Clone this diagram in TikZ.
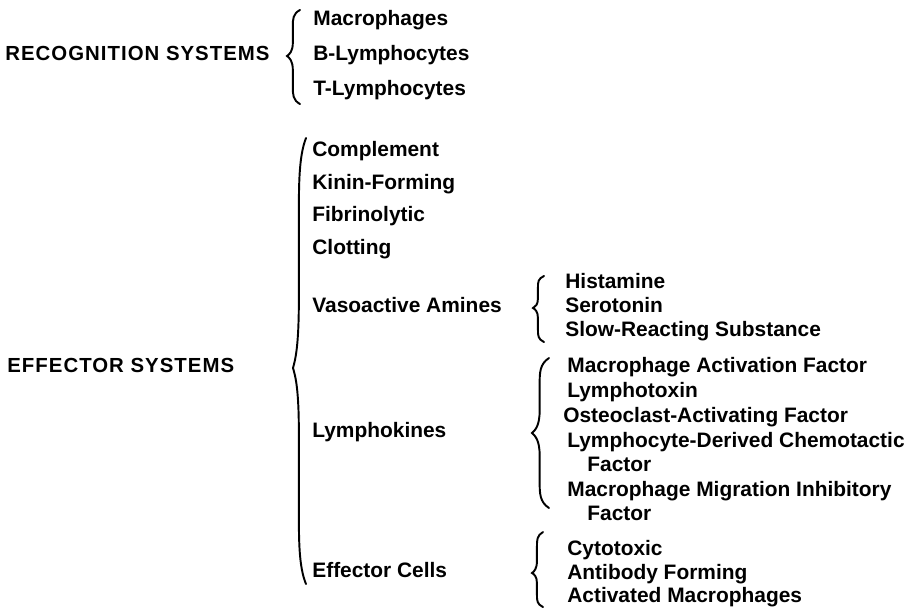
\documentclass[tikz,border=0pt]{standalone}
\usepackage{fontspec}
\setmainfont{Liberation Sans}
\newfontfamily\capsfont{Liberation Sans}[LetterSpace=5]
\usepackage{tikz}

% curly brace: cusp x, top y, cusp y, bottom y, width
\newcommand{\curlybrace}[5]{%
  \pgfmathsetmacro{\cbmid}{#1+0.45*#5}%
  \pgfmathsetmacro{\cbend}{#1+#5}%
  \pgfmathsetmacro{\cbup}{#3-#2}%
  \pgfmathsetmacro{\cbdn}{#4-#3}%
  \draw[bracestroke] (\cbend,#2)
    .. controls (\cbmid,{#2+0.08*\cbup}) and (\cbmid,{#2+0.2*\cbup}) .. (\cbmid,{#2+0.35*\cbup})
    -- (\cbmid,{#3-0.3*\cbup})
    .. controls (\cbmid,{#3-0.1*\cbup}) and ({#1+0.2*#5},{#3-0.04*\cbup}) .. (#1,#3)
    .. controls ({#1+0.2*#5},{#3+0.04*\cbdn}) and (\cbmid,{#3+0.1*\cbdn}) .. (\cbmid,{#3+0.3*\cbdn})
    -- (\cbmid,{#4-0.35*\cbdn})
    .. controls (\cbmid,{#4-0.2*\cbdn}) and (\cbmid,{#4-0.08*\cbdn}) .. (\cbend,#4);
}

\tikzset{
  item/.style={anchor=mid west, inner sep=0pt, font=\bfseries\fontsize{11.9}{13}\selectfont},
  heading/.style={item, font=\capsfont\bfseries\fontsize{11.6}{13}\selectfont},
  bracestroke/.style={line width=1.1pt, line cap=round},
}

\begin{document}
\begin{tikzpicture}[x=0.02cm, y=-0.02cm]

\useasboundingbox (0,0) rectangle (916,610);

%
% Recognition systems
%

\path 
(5,56) node[heading] (recog) {RECOGNITION SYSTEMS};

\curlybrace{287}{10}{56}{104}{13}

\path 
(313,21) node[item] (macro) {Macrophages};
\path 
(313,56) node[item] (blymph) {B-Lymphocytes};
\path 
(313,91) node[item] (tlymph) {T-Lymphocytes};


%
% Effector systems
%

\path 
(7,368) node[heading] (effect) {EFFECTOR SYSTEMS};

\curlybrace{293}{138}{368}{584}{13}

\path 
(312,152) node[item] (complement) {Complement};
\path 
(312,185) node[item] (kinin) {Kinin-Forming};
\path 
(312,217) node[item] (fibrin) {Fibrinolytic};
\path 
(312,250) node[item] (clot) {Clotting};
\path 
(312,308) node[item] (vaso) {Vasoactive Amines};
\path 
(312,433) node[item] (lymphok) {Lymphokines};
\path 
(312,573) node[item] (cells) {Effector Cells};


% Vasoactive amines
\curlybrace{533}{276}{308}{342}{11}

\path 
(565,284) node[item] (hist) {Histamine};
\path 
(565,308) node[item] (sero) {Serotonin};
\path 
(565,332) node[item] (srs) {Slow-Reacting Substance};


% Lymphokines
\curlybrace{532}{358}{433}{508}{17}

\path 
(567,368) node[item] (maf) {Macrophage Activation Factor};
\path 
(567,393) node[item] (ltox) {Lymphotoxin};
\path 
(563,418) node[item] (oaf) {Osteoclast-Activating Factor};
\path 
(567,443) node[item] (ldcf) {Lymphocyte-Derived Chemotactic};
\path 
(587,467) node[item] (ldcf2) {Factor};
\path 
(567,492) node[item] (mif) {Macrophage Migration Inhibitory};
\path 
(587,516) node[item] (mif2) {Factor};


% Effector cells
\curlybrace{532}{532}{573}{607}{11}

\path 
(567,551) node[item] (cyto) {Cytotoxic};
\path 
(567,575) node[item] (abf) {Antibody Forming};
\path 
(567,598) node[item] (actm) {Activated Macrophages};

\end{tikzpicture}
\end{document}
